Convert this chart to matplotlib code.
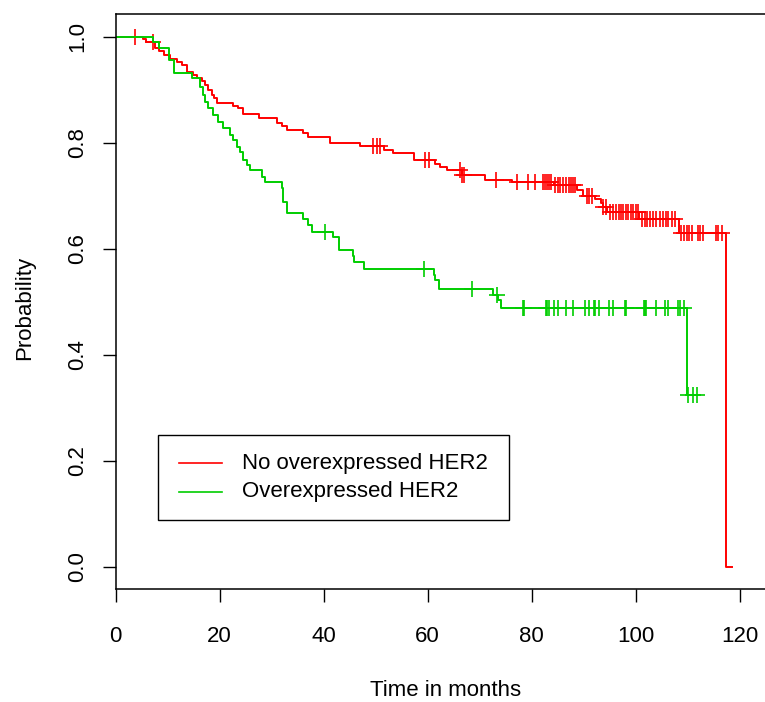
import numpy as np
import matplotlib
matplotlib.use('Agg')
import matplotlib.pyplot as plt
from matplotlib.lines import Line2D
from matplotlib.patches import Rectangle

plt.rcParams['font.family'] = ['Liberation Sans', 'DejaVu Sans']

# Kaplan-Meier steps (time in months, survival after the drop)
red_times = [0, 5.3, 5.8, 7.6, 8.4, 9.2, 10.4, 11.7, 12.7, 13.8, 14.8, 15.6, 16.5, 17.2,
             17.8, 18.5, 18.9, 19.4, 22.6, 23.6, 24.4, 27.6, 31.0, 31.9, 32.9, 36.1, 37.0,
             41.2, 47.0, 51.5, 53.4, 57.4, 61.4, 62.3, 63.7, 66.5, 71.0, 76.2, 84.2, 88.7,
             89.9, 92.2, 93.3, 93.8, 94.5, 100.7, 108.4, 117.3, 118.5]
red_surv = [1.0, 0.995, 0.991, 0.978, 0.973, 0.966, 0.959, 0.953, 0.946, 0.934, 0.928, 0.923,
            0.916, 0.909, 0.899, 0.890, 0.884, 0.876, 0.870, 0.865, 0.855, 0.847, 0.838,
            0.832, 0.825, 0.818, 0.811, 0.800, 0.794, 0.786, 0.780, 0.767, 0.760, 0.754,
            0.749, 0.740, 0.730, 0.726, 0.720, 0.710, 0.700, 0.693, 0.686, 0.678, 0.670,
            0.657, 0.630, 0.0, 0.0]
red_cens = [3.7, 7.1, 49.5, 50.2, 50.8, 59.5, 60.2, 66.3, 66.6, 66.9, 73.1, 77.2, 79.2, 80.6,
            82.2, 82.6, 82.9, 83.3, 83.8, 84.5, 85.0, 85.5, 86.1, 86.6, 87.1, 87.6, 88.0,
            88.3, 90.6, 91.1, 91.5, 93.8, 94.3, 95.1, 95.7, 96.2, 96.7, 97.2, 97.6, 98.1,
            98.6, 99.0, 99.5, 100.1, 100.5, 101.2, 101.8, 102.2, 102.8, 103.4, 103.9, 104.7,
            105.3, 105.8, 106.3, 106.9, 107.6, 108.8, 109.3, 109.8, 110.3, 110.8, 112.0,
            112.4, 112.9, 115.4, 115.9, 116.5]

green_times = [0, 7.1, 8.4, 10.3, 11.3, 14.6, 16.3, 16.8, 17.2, 17.8, 18.8, 19.7, 20.7, 22.0,
               22.6, 23.3, 23.9, 24.5, 25.2, 25.8, 28.1, 28.7, 31.9, 32.2, 32.9, 36.1, 37.0,
               37.7, 41.8, 43.0, 45.6, 45.8, 47.8, 61.2, 61.4, 62.2, 72.5, 73.6, 74.1,
               109.8, 111.8]
green_surv = [1.0, 0.991, 0.978, 0.956, 0.932, 0.922, 0.906, 0.890, 0.877, 0.865, 0.852,
              0.840, 0.827, 0.815, 0.805, 0.792, 0.783, 0.767, 0.758, 0.749, 0.736, 0.726,
              0.714, 0.689, 0.667, 0.657, 0.645, 0.632, 0.623, 0.598, 0.586, 0.575, 0.561,
              0.550, 0.541, 0.525, 0.513, 0.503, 0.489, 0.324, 0.324]
green_cens = [40.3, 59.2, 68.5, 73.3, 78.4, 78.6, 82.8, 83.0, 83.3, 84.2, 85.1, 86.6, 88.0,
              90.3, 91.1, 91.9, 92.2, 93.0, 94.8, 95.6, 98.0, 98.1, 101.5, 101.7, 102.0,
              103.9, 105.6, 106.3, 108.2, 108.6, 109.3, 110.0, 111.1, 111.8]

groups = ['No overexpressed HER2', 'Overexpressed HER2']
colors = ['#FF0000', '#00CD00']

W, H = 765, 702
fig = plt.figure(figsize=(W / 100, H / 100), dpi=100)
ax = fig.add_axes([115.7 / W, 1 - 589 / H, 1 - 115.7 / W, (589 - 14) / H])


def surv_at(times, surv, t):
    idx = np.searchsorted(times, t, side='right') - 1
    return np.asarray(surv)[idx]


curves = [(red_times, red_surv, red_cens), (green_times, green_surv, green_cens)]
for (tt, ss, cc), col in zip(curves, colors):
    ax.step(tt, ss, where='post', color=col, lw=1.4)
    ax.plot(cc, surv_at(tt, ss, cc), ls='none', marker='+', ms=11, mew=1.2, color=col)

ax.set_xlim(0, (W - 115.7) / 5.2)
ax.set_ylim(-0.042, 1.043)
ax.set_xticks(np.arange(0, 121, 20))
ax.set_yticks([0.0, 0.2, 0.4, 0.6, 0.8, 1.0])
ax.set_yticklabels(['0.0', '0.2', '0.4', '0.6', '0.8', '1.0'], rotation=90, va='center')
ax.tick_params(axis='both', length=9.5, width=1.0, labelsize=16, direction='out')
ax.tick_params(axis='x', pad=17)
ax.tick_params(axis='y', pad=10)
ax.spines['right'].set_visible(False)
for s in ['top', 'left', 'bottom']:
    ax.spines[s].set_linewidth(1.1)

fig.text(446 / W, 1 - 690 / H, 'Time in months', ha='center', va='center', fontsize=16)
fig.text(25 / W, 1 - 308 / H, 'Probability', ha='center', va='center', fontsize=16, rotation=90)

# legend box drawn by hand to match the R legend
fig.patches.append(Rectangle((158 / W, 1 - 519.5 / H), (508.5 - 158) / W, (519.5 - 435) / H,
                             transform=fig.transFigure, fill=False, edgecolor='black', lw=1.0))
for i, (lab, col) in enumerate(zip(groups, colors)):
    yy = 1 - (463 + 29 * i) / H
    fig.lines.append(Line2D([178.5 / W, 221.5 / W], [yy, yy], transform=fig.transFigure,
                            color=col, lw=1.2))
    fig.text(242.5 / W, yy, lab, ha='left', va='center', fontsize=16)

plt.savefig('out.png', dpi=100)
